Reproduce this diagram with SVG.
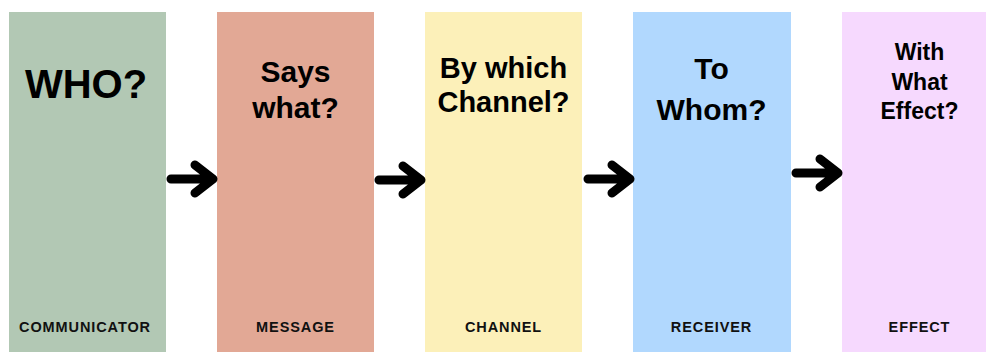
<svg xmlns="http://www.w3.org/2000/svg" width="986" height="352" viewBox="0 0 986 352">
<style>
.box{stroke:none}
.t{font-family:"Liberation Sans",Arial,sans-serif;font-weight:bold;fill:#000;text-anchor:middle}
.lbl{font-family:"Liberation Sans",Arial,sans-serif;font-weight:bold;font-size:14.5px;fill:#111;text-anchor:middle;letter-spacing:0.9px}
.arr{fill:none;stroke:#000;stroke-width:9;stroke-linecap:round;stroke-linejoin:round}
</style>
<rect width="986" height="352" fill="#fff"/>
<g id="who">
<rect class="box" x="9" y="12" width="157" height="340" fill="#b2c8b4"/>
<text class="t" x="86" y="98" font-size="40">WHO?</text>
<text class="lbl" x="85" y="332">COMMUNICATOR</text>
</g>
<g id="says">
<rect class="box" x="217" y="12" width="157" height="340" fill="#e2a895"/>
<text class="t" x="295.5" y="82" font-size="30">Says</text>
<text class="t" x="295.5" y="118" font-size="30">what?</text>
<text class="lbl" x="295.5" y="332">MESSAGE</text>
</g>
<g id="channel">
<rect class="box" x="425" y="12" width="157" height="340" fill="#fcf0b9"/>
<text class="t" x="503.5" y="78" font-size="29">By which</text>
<text class="t" x="503.5" y="112" font-size="29">Channel?</text>
<text class="lbl" x="503.5" y="332">CHANNEL</text>
</g>
<g id="whom">
<rect class="box" x="633" y="12" width="158" height="340" fill="#b1d8fe"/>
<text class="t" x="711.5" y="79" font-size="30">To</text>
<text class="t" x="711.5" y="120" font-size="30">Whom?</text>
<text class="lbl" x="711.5" y="332">RECEIVER</text>
</g>
<g id="effect">
<rect class="box" x="842" y="12" width="157" height="340" fill="#f6d9fe"/>
<text class="t" x="919.5" y="60" font-size="23">With</text>
<text class="t" x="919.5" y="90" font-size="23">What</text>
<text class="t" x="919.5" y="119" font-size="23">Effect?</text>
<text class="lbl" x="919.5" y="332">EFFECT</text>
</g>
<g id="connectors">
<path class="arr" d="M171 179 H212 M195 165 L213 179 L195 193"/>
<path class="arr" d="M379 180 H420 M403 166 L421 180 L403 194"/>
<path class="arr" d="M588 179 H629 M612 165 L630 179 L612 193"/>
<path class="arr" d="M796 173 H837 M820 159 L838 173 L820 187"/>
</g>
</svg>
